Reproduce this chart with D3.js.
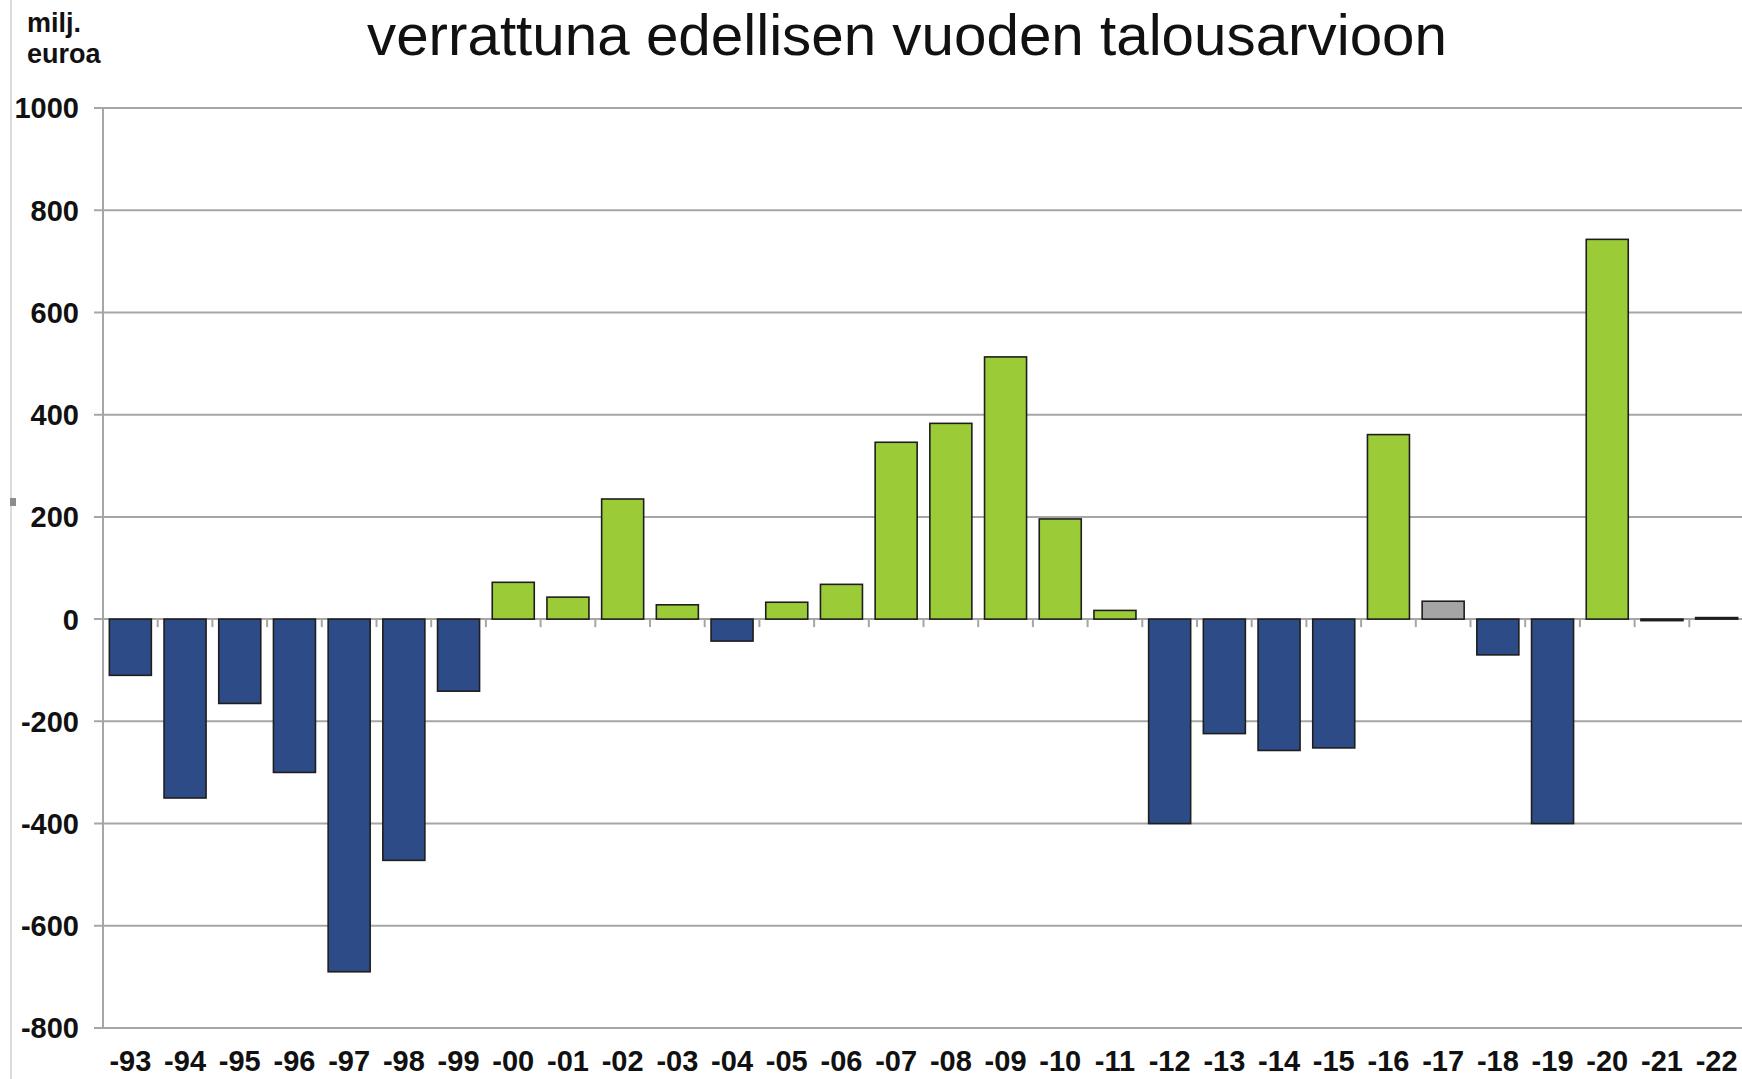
<!DOCTYPE html>
<meta charset="utf-8">
<head>
  <script src="https://d3js.org/d3.v7.min.js"></script>
</head>
<style>
body {
  margin: 0;
  background: white;
  font-family: "Liberation Sans", Arial, sans-serif;
}
.tick-label {
  font-family: "Liberation Sans", Arial, sans-serif;
  font-weight: bold;
  fill: #111;
}
.grid {
  stroke: #a6a6a6;
  stroke-width: 2;
}
</style>
<body>
<svg width="1742" height="1079" id="container"></svg>
<script>

// years (talousarviovuosi) and change vs previous year's budget, milj. euroa
var years = ['-93','-94','-95','-96','-97','-98','-99','-00','-01','-02',
             '-03','-04','-05','-06','-07','-08','-09','-10','-11','-12',
             '-13','-14','-15','-16','-17','-18','-19','-20','-21','-22'];
var values = [-110, -350, -165, -300, -690, -472, -141, 72, 43, 235,
              28, -43, 33, 68, 346, 383, 513, 196, 17, -400,
              -224, -257, -252, 361, 35, -70, -400, 743, -3, 3];
// years drawn in grey instead of green/blue
var greyYears = ['-17'];
var yTicks = [-800, -600, -400, -200, 0, 200, 400, 600, 800, 1000];

var svg = d3.select('#container');

var plotLeft = 103, plotRight = 1744, plotTop = 108, plotBottom = 1028;

var x = d3.scaleBand()
          .domain(years)
          .range([plotLeft, plotRight])
          .paddingInner(0.232)
          .paddingOuter(0.116);

var y = d3.scaleLinear()
          .domain([-800, 1000])
          .range([plotBottom, plotTop]);

// thin frame line at the left edge of the cropped picture
svg.append('line')
   .attr('x1', 11).attr('x2', 11)
   .attr('y1', 0).attr('y2', 1079)
   .attr('stroke', '#d0d0d0')
   .attr('stroke-width', 1.5);
svg.append('rect')
   .attr('x', 10).attr('y', 498)
   .attr('width', 6).attr('height', 8)
   .attr('fill', '#8c8c8c');

// gridlines (with the short outer ticks)
svg.selectAll('.grid')
   .data(yTicks)
   .enter()
   .append('line')
   .attr('class', 'grid')
   .attr('x1', plotLeft - 9)
   .attr('x2', 1742)
   .attr('y1', function(d) { return y(d); })
   .attr('y2', function(d) { return y(d); });

// y axis line
svg.append('line')
   .attr('x1', plotLeft).attr('x2', plotLeft)
   .attr('y1', plotTop).attr('y2', plotBottom)
   .attr('stroke', '#a6a6a6')
   .attr('stroke-width', 2);

// y labels
svg.selectAll('.ylab')
   .data(yTicks)
   .enter()
   .append('text')
   .attr('class', 'tick-label')
   .attr('x', 79)
   .attr('y', function(d) { return y(d); })
   .attr('dy', '0.36em')
   .attr('text-anchor', 'end')
   .attr('font-size', '29px')
   .text(function(d) { return d; });

// bars
var data = years.map(function(yr, i) { return {year: yr, value: values[i]}; });

svg.selectAll('.bar')
   .data(data)
   .enter()
   .append('rect')
   .attr('class', 'bar')
   .attr('x', function(d) { return x(d.year); })
   .attr('width', x.bandwidth())
   .attr('y', function(d) { return y(Math.max(0, d.value)); })
   .attr('height', function(d) { return Math.abs(y(d.value) - y(0)); })
   .attr('fill', function(d) {
     if (greyYears.indexOf(d.year) != -1) return '#a5a5a5';
     return d.value >= 0 ? '#9ccb38' : '#2d4b86';
   })
   .attr('stroke', '#1e1e1e')
   .attr('stroke-width', 1.6);

// ticks on the zero line between categories
var step = x.step();
var boundaries = years.slice(1).map(function(yr) {
  return x(yr) - step * x.paddingInner() / 2;
});
svg.selectAll('.xtick')
   .data(boundaries)
   .enter()
   .append('line')
   .attr('x1', function(d) { return d; })
   .attr('x2', function(d) { return d; })
   .attr('y1', y(0))
   .attr('y2', y(0) + 8)
   .attr('stroke', '#a6a6a6')
   .attr('stroke-width', 2);

// x labels along the bottom
var xAxis = svg.append('g')
   .attr('transform', 'translate(0,' + plotBottom + ')')
   .call(d3.axisBottom(x).tickSize(0).tickPadding(22));
xAxis.select('.domain').remove();
xAxis.selectAll('text')
     .attr('class', 'tick-label')
     .attr('font-size', '29px')
     .attr('dy', '0.71em');

// title (second line; first line is cut off above the picture)
svg.append('text')
   .attr('x', 367)
   .attr('y', 55)
   .attr('font-size', '57px')
   .attr('fill', '#111')
   .attr('textLength', 1080)
   .attr('lengthAdjust', 'spacingAndGlyphs')
   .text('verrattuna edellisen vuoden talousarvioon');

// unit label
var unit = svg.append('text')
   .attr('x', 27)
   .attr('font-size', '27px')
   .attr('font-weight', 'bold')
   .attr('fill', '#111');
unit.append('tspan').attr('x', 27).attr('y', 32).text('milj.');
unit.append('tspan').attr('x', 27).attr('y', 63).text('euroa');

</script>
</body>
